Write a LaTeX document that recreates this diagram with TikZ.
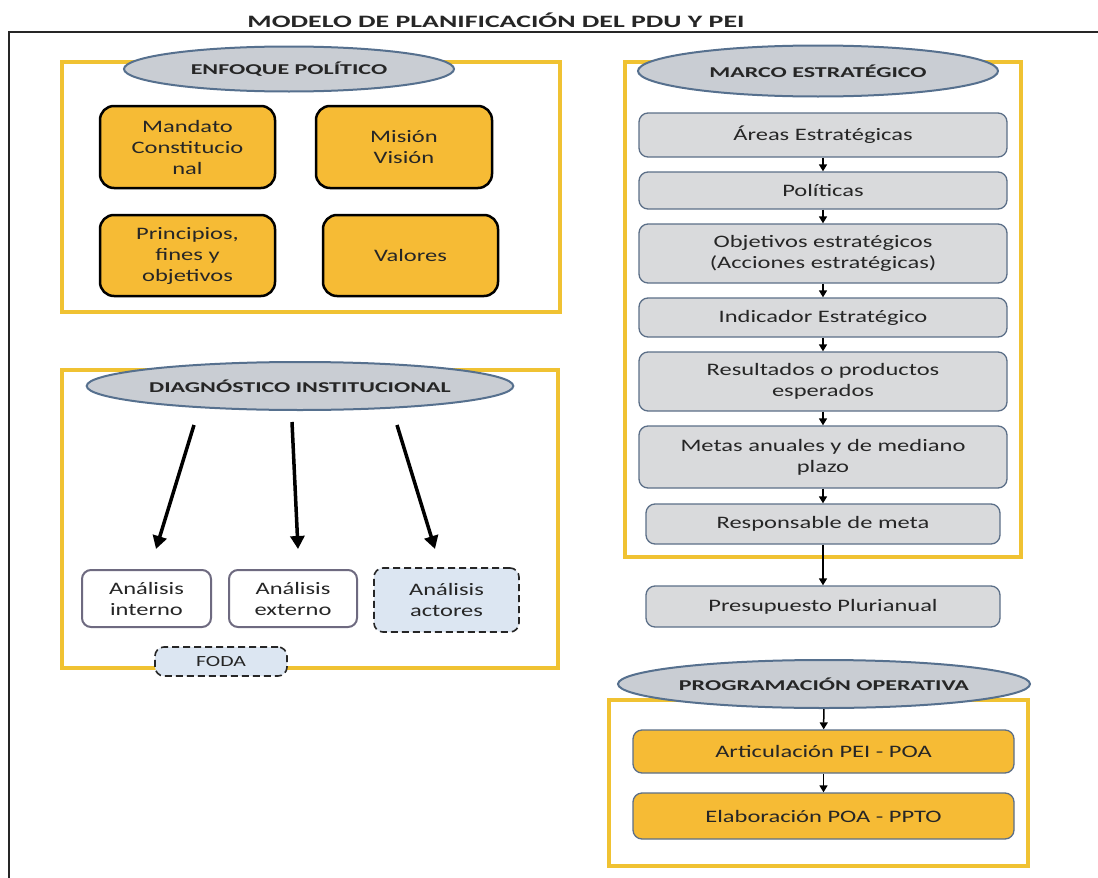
\documentclass[tikz,border=0pt]{standalone}
\usepackage{fontspec}
\setmainfont{Carlito}[FakeStretch=1.4]
\newfontfamily\capsfont{Carlito}[FakeStretch=1.6]
\usetikzlibrary{arrows.meta,shapes.geometric}
\definecolor{goldline}{HTML}{F0C232}
\definecolor{orangefill}{HTML}{F6BB35}
\definecolor{ellfill}{HTML}{C9CDD3}
\definecolor{ellline}{HTML}{56708E}
\definecolor{greyfill}{HTML}{D9DADC}
\definecolor{greyline}{HTML}{5C6F88}
\definecolor{analine}{HTML}{6E6A80}
\definecolor{lightblue}{HTML}{DCE6F2}
\definecolor{txt}{HTML}{262626}
\tikzset{
  frame/.style={draw=goldline,line width=4pt},
  ell/.style={ellipse,draw=ellline,line width=2pt,fill=ellfill,inner sep=0pt,
    font=\capsfont\bfseries\fontsize{15}{18}\selectfont,text=txt},
  body/.style={inner sep=0pt,align=center,font=\fontsize{17.5}{21}\selectfont,text=txt},
  obox/.style={body,rectangle,rounded corners=14pt,draw=black,line width=2.5pt,fill=orangefill},
  gbox/.style={body,rectangle,rounded corners=9pt,draw=greyline,line width=1.3pt,fill=greyfill},
  ybox/.style={body,rectangle,rounded corners=9pt,draw=greyline,line width=1.3pt,fill=orangefill},
  abox/.style={body,rectangle,rounded corners=9pt,draw=analine,line width=2pt,fill=white},
  dbox/.style={body,rectangle,rounded corners=9pt,draw=txt,dashed,dash pattern=on 7pt off 4pt,line width=1.6pt,fill=lightblue},
  bigarrow/.style={line width=3.5pt,-{Triangle[length=13pt,width=14pt]}},
  smallarrow/.style={line width=1.5pt,-{Triangle[length=7pt,width=8pt]}},
}
\begin{document}
\begin{tikzpicture}[x=1pt,y=-1pt]
\useasboundingbox (0,0) rectangle (1098,878);
\fill[white] (0,0) rectangle (1098,878);
% title
\node[font=\capsfont\bfseries\fontsize{17.4}{20}\selectfont,text=txt] (title) at (496,20) {MODELO DE PLANIFICACIÓN DEL PDU Y PEI};
% outer frame lines
\draw[line width=1.5pt,draw=txt] (9,878) -- (9,32) -- (1098,32);

% ENFOQUE POLITICO
\draw[frame] (62,62) rectangle (560,312);
\node[ell,minimum width=330pt,minimum height=45pt] (ep) at (289,69) {ENFOQUE POLÍTICO};
\node[obox,minimum width=175pt,minimum height=82pt] (mand) at (187.5,147) {Mandato\\Constitucio\\nal};
\node[obox,minimum width=176pt,minimum height=82pt] (mis) at (404,147) {Misión\\Visión};
\node[obox,minimum width=175pt,minimum height=81pt] (prin) at (187.5,255.5) {Principios,\\fines y\\objetivos};
\node[obox,minimum width=175pt,minimum height=81pt] (val) at (410.5,255.5) {Valores};

% DIAGNOSTICO
\draw[frame] (62,370) rectangle (558,668);
\node[ell,minimum width=417pt,minimum height=48pt] (di) at (300,386) {DIAGNÓSTICO INSTITUCIONAL};
\node[abox,minimum width=129pt,minimum height=57pt] (ai) at (146.5,598.5) {Análisis\\interno};
\node[abox,minimum width=128pt,minimum height=57pt] (ae) at (293,598.5) {Análisis\\externo};
\node[dbox,minimum width=145pt,minimum height=64pt] (aa) at (446.5,600) {Análisis\\actores};
\node[dbox,minimum width=132pt,minimum height=29pt,font=\fontsize{15.5}{18}\selectfont] (foda) at (221,661.5) {FODA};
\coordinate (s1) at (194,425); \coordinate (e1) at (156,549);
\coordinate (s2) at (292,422); \coordinate (e2) at (298,549);
\coordinate (s3) at (397,425); \coordinate (e3) at (435,549);
\draw[bigarrow] (s1) -- (e1);
\draw[bigarrow] (s2) -- (e2);
\draw[bigarrow] (s3) -- (e3);

% MARCO ESTRATEGICO
\draw[frame] (625,62) rectangle (1021,557);
\node[ell,minimum width=360pt,minimum height=51pt] (me) at (818,71) {MARCO ESTRATÉGICO};
\node[gbox,minimum width=368pt,minimum height=44pt] (areas) at (823,135) {Áreas Estratégicas};
\node[gbox,minimum width=368pt,minimum height=37pt] (pol) at (823,190.5) {Políticas};
\node[gbox,minimum width=368pt,minimum height=59pt] (obj) at (823,253.5) {Objetivos estratégicos\\(Acciones estratégicas)};
\node[gbox,minimum width=368pt,minimum height=39pt] (ind) at (823,317.5) {Indicador Estratégico};
\node[gbox,minimum width=368pt,minimum height=59pt] (res) at (823,381.5) {Resultados o productos\\esperados};
\node[gbox,minimum width=368pt,minimum height=62pt] (met) at (823,457) {Metas anuales y de mediano\\plazo};
\node[gbox,minimum width=354pt,minimum height=40pt] (resp) at (823,524) {Responsable de meta};
\node[gbox,minimum width=354pt,minimum height=41pt] (pres) at (823,606.5) {Presupuesto Plurianual};
\draw[smallarrow] (areas) -- (pol);
\draw[smallarrow] (pol) -- (obj);
\draw[smallarrow] (obj) -- (ind);
\draw[smallarrow] (ind) -- (res);
\draw[smallarrow] (res) -- (met);
\draw[smallarrow] (met) -- (resp);
\draw[smallarrow] (resp) -- (pres);

% PROGRAMACION OPERATIVA
\draw[frame] (609,700) rectangle (1028,866);
\node[ell,minimum width=412pt,minimum height=48pt] (po) at (824,684) {PROGRAMACIÓN OPERATIVA};
\node[ybox,minimum width=381pt,minimum height=43pt] (art) at (823.5,751.5) {Articulación PEI - POA};
\node[ybox,minimum width=381pt,minimum height=46pt] (ela) at (823.5,816) {Elaboración POA - PPTO};
\draw[smallarrow] (po) -- (art);
\draw[smallarrow] (art) -- (ela);
\end{tikzpicture}
\end{document}
